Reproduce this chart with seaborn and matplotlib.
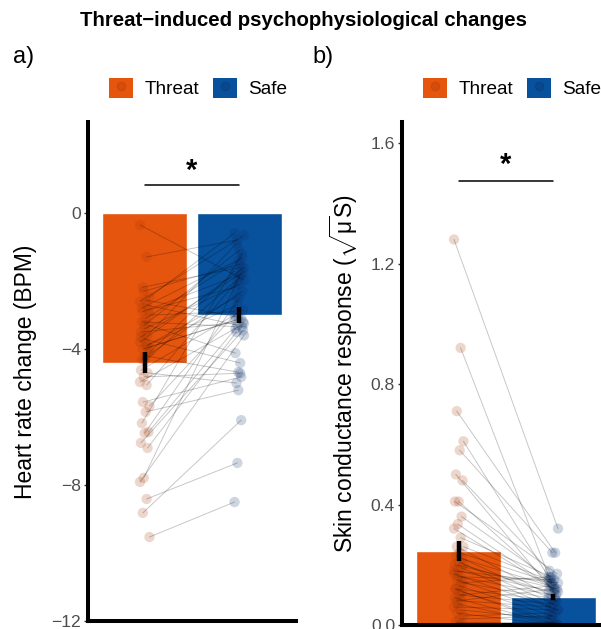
import numpy as np
import pandas as pd
import matplotlib
matplotlib.use("Agg")
import matplotlib.pyplot as plt
import seaborn as sns
from matplotlib.patches import Patch
from matplotlib.lines import Line2D

sns.set_style("white")
plt.rcParams['font.family'] = ['Liberation Sans', 'DejaVu Sans']
plt.rcParams['mathtext.fontset'] = 'custom'
plt.rcParams['mathtext.rm'] = 'Liberation Sans'
plt.rcParams['mathtext.it'] = 'Liberation Sans:italic'
plt.rcParams['text.color'] = 'black'
plt.rcParams['axes.labelcolor'] = 'black'

# -------------------------
# DATA
# -------------------------
conditions = ["Threat", "Safe"]

# heart rate change, one value per participant (paired)
hr_threat = [-0.35, -1.29, -2.18, -2.47, -2.56, -2.79, -2.85, -3.29, -3.65, -3.88,
             -2.3, -2.6, -2.7, -2.9, -3.0, -3.1, -3.2, -3.3, -3.4, -3.5,
             -3.6, -3.7, -3.8, -3.9, -4.0, -4.1, -4.2, -4.3, -3.95, -4.35,
             -4.62, -4.7, -4.82, -4.97, -5.06, -5.56, -5.68, -5.85, -6.18, -6.44,
             -6.47, -6.76, -6.91, -7.79, -7.91, -8.41, -8.82, -9.53]
hr_safe = [-1.97, -0.79, -1.59, -0.59, -3.06, -1.32, -2.18, -1.09, -1.74, -2.47,
           -1.5, -0.65, -3.3, -1.8, -2.9, -1.4, -3.35, -4.12, -2.1, -3.2,
           -0.9, -4.41, -1.6, -2.7, -3.1, -1.7, -4.68, -2.3, -3.15, -1.9,
           -2.85, -5.0, -4.71, -3.25, -2.0, -4.82, -3.0, -5.21, -1.2, -3.4,
           -2.5, -3.45, -3.5, -1.82, -3.6, -7.35, -6.09, -8.5]
hr_mean = [-4.4, -3.0]
hr_se = [0.3, 0.24]

# skin conductance response (sqrt uS), paired
scr_threat = [1.28, 0.92, 0.71, 0.61, 0.58, 0.50, 0.48, 0.41, 0.41, 0.36,
              0.335, 0.32, 0.29, 0.26, 0.26, 0.24, 0.23, 0.22, 0.21, 0.20,
              0.19, 0.18, 0.17, 0.16, 0.15, 0.14, 0.13, 0.12, 0.11, 0.10,
              0.09, 0.08, 0.07, 0.06, 0.05, 0.04, 0.03, 0.02, 0.01, 0.0,
              0.0, 0.12, 0.14, 0.16, 0.18, 0.10, 0.08, 0.20]
scr_safe = [0.32, 0.14, 0.24, 0.16, 0.24, 0.10, 0.18, 0.13, 0.17, 0.15,
            0.12, 0.11, 0.16, 0.09, 0.15, 0.14, 0.08, 0.13, 0.07, 0.12,
            0.06, 0.11, 0.05, 0.10, 0.04, 0.09, 0.03, 0.08, 0.02, 0.07,
            0.0, 0.06, 0.0, 0.05, 0.02, 0.0, 0.04, 0.03, 0.01, 0.0,
            0.0, 0.0, 0.16, 0.15, 0.14, 0.13, 0.12, 0.11]
scr_mean = [0.246, 0.093]
scr_se = [0.033, 0.011]

bar_colors = ["#E6550D", "#08519C"]
point_colors = ["#A63603", "#08306B"]


def panel(ax, threat, safe, means, ses, ylim, yticks, yticklabels, ylabel,
          sig_y, star_y, label_pad):
    summary = pd.DataFrame({"cond": conditions, "mean": means})
    sns.barplot(data=summary, x="cond", y="mean", hue="cond", order=conditions,
                palette=bar_colors, width=0.9, saturation=1, errorbar=None,
                legend=False, ax=ax, zorder=1)

    # deterministic small horizontal spread of the participant points
    n = len(threat)
    offs = (((np.arange(n) * 7) % 11) - 5) / 100.0
    x0 = 0 + offs
    x1 = 1 + offs[::-1]
    for i in range(n):
        ax.plot([x0[i], x1[i]], [threat[i], safe[i]], color="black",
                alpha=0.22, lw=0.7, zorder=3)
    ax.scatter(x0, threat, s=55, color=point_colors[0], alpha=0.2,
               edgecolors="none", zorder=2)
    ax.scatter(x1, safe, s=55, color=point_colors[1], alpha=0.2,
               edgecolors="none", zorder=2)

    # standard error bars
    for i in range(2):
        ax.plot([i, i], [means[i] - ses[i], means[i] + ses[i]], color="black",
                lw=3.2, solid_capstyle="butt", zorder=4)

    # significance marker
    ax.plot([0, 1], [sig_y, sig_y], color="black", lw=1.1, zorder=4)
    ax.text(0.5, star_y, "*", ha="center", va="baseline", fontsize=21,
            fontweight="bold")

    ax.set_xlim(-0.6, 1.6)
    ax.set_ylim(*ylim)
    ax.set_xticks([])
    ax.set_xlabel("")
    ax.set_yticks(yticks)
    ax.set_yticklabels(yticklabels)
    ax.set_ylabel(ylabel, fontsize=16.5, labelpad=label_pad)
    ax.tick_params(axis="y", length=3, width=1, color="#333333",
                   labelcolor="#4D4D4D", labelsize=12.6, pad=2, left=True)
    for s in ["top", "right"]:
        ax.spines[s].set_visible(False)
    for s in ["left", "bottom"]:
        ax.spines[s].set_linewidth(2.9)
        ax.spines[s].set_color("black")

    handles = []
    for c, pc in zip(bar_colors, point_colors):
        handles.append((Patch(facecolor=c, edgecolor="none"),
                        Line2D([], [], ls="none", marker="o", markersize=6,
                               color=pc, alpha=0.25)))
    ax.legend(handles, conditions, loc="center", bbox_to_anchor=(0.53, 1.068),
              ncol=2, frameon=False, fontsize=13.7, handlelength=1.26,
              handleheight=1.26, handletextpad=0.6, columnspacing=0.7)


fig = plt.figure(figsize=(6.01, 6.29), dpi=100)
ax1 = fig.add_axes([88 / 601, 8 / 629, 208 / 601, 499 / 629])
ax2 = fig.add_axes([402 / 601, 4 / 629, 208 / 601, 503 / 629])

panel(ax1, hr_threat, hr_safe, hr_mean, hr_se, (-12, 2.68), [0, -4, -8, -12],
      ["0", "\u22124", "\u22128", "\u221212"], "Heart rate change (BPM)",
      0.82, 1.0, 10)
panel(ax2, scr_threat, scr_safe, scr_mean, scr_se, (0, 1.67),
      [0, 0.4, 0.8, 1.2, 1.6], ["0.0", "0.4", "0.8", "1.2", "1.6"],
      r"Skin conductance response ($\sqrt{\mathrm{\mu}}$S)", 1.475, 1.5, 8)

fig.text(303 / 601, 1 - 20 / 629, "Threat\u2212induced psychophysiological changes",
         ha="center", va="center", fontsize=14.7, fontweight="bold")
fig.text(13 / 601, 1 - 57 / 629, "a)", ha="left", va="center", fontsize=17)
fig.text(312 / 601, 1 - 57 / 629, "b)", ha="left", va="center", fontsize=17)

fig.savefig("out.png", dpi=100)
plt.close()
